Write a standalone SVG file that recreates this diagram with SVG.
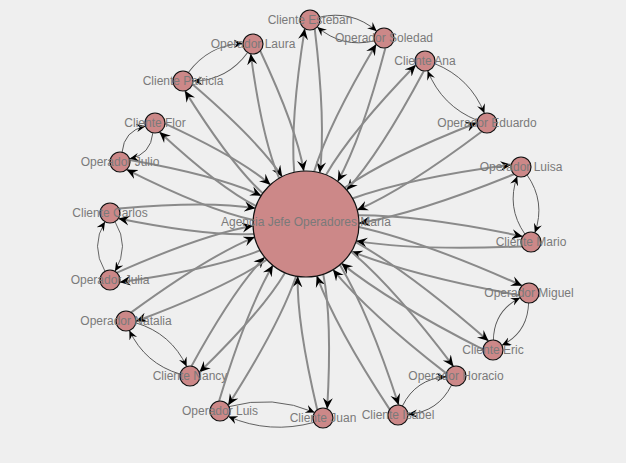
<svg xmlns="http://www.w3.org/2000/svg" width="626" height="463" viewBox="0 0 626 463">
<style>
.sp{fill:none;stroke:#8a8a8a;stroke-width:2;marker-end:url(#a)}
.pr{fill:none;stroke:#555;stroke-width:0.9;marker-end:url(#b)}
.n{fill:#cc8888;stroke:#111;stroke-width:1.2}
text{font-family:"Liberation Sans",Arial,sans-serif;font-size:12px;fill:#7a7a7a;text-anchor:middle;dominant-baseline:central}
</style>
<defs>
<marker id="a" viewBox="-11 -6 12 12" markerWidth="12" markerHeight="12" refX="0" refY="0" orient="auto" markerUnits="userSpaceOnUse"><path d="M0,0 L-11,-5 L-7,0 L-11,5 z" fill="#000"/></marker>
<marker id="b" viewBox="-11 -6 12 12" markerWidth="10" markerHeight="10" refX="0" refY="0" orient="auto" markerUnits="userSpaceOnUse"><path d="M0,0 L-11,-5 L-7,0 L-11,5 z" fill="#000"/></marker>
</defs>
<rect width="626" height="463" fill="#efefef"/>
<g id="connectors">
<g transform="translate(306,224) rotate(-88.9)"><path class="sp" d="M51.4,-12.8 Q102,-18 195.3,-5"/><path class="sp" d="M195.3,5 Q102,18 51.4,12.8"/></g>
<g transform="translate(306,224) rotate(-67.2)"><path class="sp" d="M51.4,-12.8 Q101,-18 193,-5"/><path class="sp" d="M193,5 Q101,18 51.4,12.8"/></g>
<g transform="translate(306,224) rotate(-53.9)"><path class="sp" d="M51.4,-12.8 Q101,-18 193.1,-5"/><path class="sp" d="M193.1,5 Q101,18 51.4,12.8"/></g>
<g transform="translate(306,224) rotate(-29.2)"><path class="sp" d="M51.4,-12.8 Q104,-18 198.6,-5"/><path class="sp" d="M198.6,5 Q104,18 51.4,12.8"/></g>
<g transform="translate(306,224) rotate(-14.8)"><path class="sp" d="M51.4,-12.8 Q111,-18 213.7,-5"/><path class="sp" d="M213.7,5 Q111,18 51.4,12.8"/></g>
<g transform="translate(306,224) rotate(4.6)"><path class="sp" d="M51.4,-12.8 Q113,-18 217,-5"/><path class="sp" d="M217,5 Q113,18 51.4,12.8"/></g>
<g transform="translate(306,224) rotate(17.2)"><path class="sp" d="M51.4,-12.8 Q117,-18 224.7,-5"/><path class="sp" d="M224.7,5 Q117,18 51.4,12.8"/></g>
<g transform="translate(306,224) rotate(34)"><path class="sp" d="M51.4,-12.8 Q113,-18 216.8,-5"/><path class="sp" d="M216.8,5 Q113,18 51.4,12.8"/></g>
<g transform="translate(306,224) rotate(45.4)"><path class="sp" d="M51.4,-12.8 Q107,-18 204.9,-5"/><path class="sp" d="M204.9,5 Q107,18 51.4,12.8"/></g>
<g transform="translate(306,224) rotate(64.3)"><path class="sp" d="M51.4,-12.8 Q106,-18 203.3,-5"/><path class="sp" d="M203.3,5 Q106,18 51.4,12.8"/></g>
<g transform="translate(306,224) rotate(85)"><path class="sp" d="M51.4,-12.8 Q97,-18 186,-5"/><path class="sp" d="M186,5 Q97,18 51.4,12.8"/></g>
<g transform="translate(306,224) rotate(114.7)"><path class="sp" d="M51.4,-12.8 Q103,-18 197.1,-5"/><path class="sp" d="M197.1,5 Q103,18 51.4,12.8"/></g>
<g transform="translate(306,224) rotate(127.3)"><path class="sp" d="M51.4,-12.8 Q96,-18 182.5,-5"/><path class="sp" d="M182.5,5 Q96,18 51.4,12.8"/></g>
<g transform="translate(306,224) rotate(151.7)"><path class="sp" d="M51.4,-12.8 Q102,-18 195.8,-5"/><path class="sp" d="M195.8,5 Q102,18 51.4,12.8"/></g>
<g transform="translate(306,224) rotate(164.1)"><path class="sp" d="M51.4,-12.8 Q102,-18 195.1,-5"/><path class="sp" d="M195.1,5 Q102,18 51.4,12.8"/></g>
<g transform="translate(306,224) rotate(183.2)"><path class="sp" d="M51.4,-12.8 Q98,-18 187.6,-5"/><path class="sp" d="M187.6,5 Q98,18 51.4,12.8"/></g>
<g transform="translate(306,224) rotate(198.4)"><path class="sp" d="M51.4,-12.8 Q98,-18 187.4,-5"/><path class="sp" d="M187.4,5 Q98,18 51.4,12.8"/></g>
<g transform="translate(306,224) rotate(213.8)"><path class="sp" d="M51.4,-12.8 Q91,-18 173,-5"/><path class="sp" d="M173,5 Q91,18 51.4,12.8"/></g>
<g transform="translate(306,224) rotate(229.3)"><path class="sp" d="M51.4,-12.8 Q94,-18 179.9,-5"/><path class="sp" d="M179.9,5 Q94,18 51.4,12.8"/></g>
<g transform="translate(306,224) rotate(253.6)"><path class="sp" d="M51.4,-12.8 Q94,-18 178.9,-5"/><path class="sp" d="M178.9,5 Q94,18 51.4,12.8"/></g>
<g transform="translate(310,20) rotate(13.7)"><path class="pr" d="M8.7,-5 Q38,-20 67.5,-5"/><path class="pr" d="M67.5,5 Q38,20 8.7,5"/></g>
<g transform="translate(425,61) rotate(45)"><path class="pr" d="M8.7,-5 Q44,-20 79,-5"/><path class="pr" d="M79,5 Q44,20 8.7,5"/></g>
<g transform="translate(521,167) rotate(82.4)"><path class="pr" d="M8.7,-5 Q38,-20 67,-5"/><path class="pr" d="M67,5 Q38,20 8.7,5"/></g>
<g transform="translate(529,293) rotate(122.3)"><path class="pr" d="M8.7,-5 Q34,-20 58.7,-5"/><path class="pr" d="M58.7,5 Q34,20 8.7,5"/></g>
<g transform="translate(456,376) rotate(146.1)"><path class="pr" d="M8.7,-5 Q35,-20 61.2,-5"/><path class="pr" d="M61.2,5 Q35,20 8.7,5"/></g>
<g transform="translate(323,418) rotate(183.9)"><path class="pr" d="M8.7,-5 Q52,-20 94.5,-5"/><path class="pr" d="M94.5,5 Q52,20 8.7,5"/></g>
<g transform="translate(190,376) rotate(220.7)"><path class="pr" d="M8.7,-5 Q42,-20 75.7,-5"/><path class="pr" d="M75.7,5 Q42,20 8.7,5"/></g>
<g transform="translate(110,280) rotate(-90)"><path class="pr" d="M8.7,-5 Q34,-20 58.3,-5"/><path class="pr" d="M58.3,5 Q34,20 8.7,5"/></g>
<g transform="translate(120,162) rotate(-48.1)"><path class="pr" d="M8.7,-5 Q26,-18 43.7,-5"/><path class="pr" d="M43.7,5 Q26,18 8.7,5"/></g>
<g transform="translate(183,81) rotate(-27.9)"><path class="pr" d="M8.7,-5 Q40,-20 70.5,-5"/><path class="pr" d="M70.5,5 Q40,20 8.7,5"/></g>
</g>
<g id="center"><circle class="n" cx="306" cy="224" r="53"/></g>
<g id="nodes">
<g id="esteban"><circle class="n" cx="310" cy="20" r="10"/></g>
<g id="soledad"><circle class="n" cx="384" cy="38" r="10"/></g>
<g id="ana"><circle class="n" cx="425" cy="61" r="10"/></g>
<g id="eduardo"><circle class="n" cx="487" cy="123" r="10"/></g>
<g id="luisa"><circle class="n" cx="521" cy="167" r="10"/></g>
<g id="mario"><circle class="n" cx="531" cy="242" r="10"/></g>
<g id="miguel"><circle class="n" cx="529" cy="293" r="10"/></g>
<g id="eric"><circle class="n" cx="493" cy="350" r="10"/></g>
<g id="horacio"><circle class="n" cx="456" cy="376" r="10"/></g>
<g id="isabel"><circle class="n" cx="398" cy="415" r="10"/></g>
<g id="juan"><circle class="n" cx="323" cy="418" r="10"/></g>
<g id="luis"><circle class="n" cx="220" cy="411" r="10"/></g>
<g id="nancy"><circle class="n" cx="190" cy="376" r="10"/></g>
<g id="natalia"><circle class="n" cx="126" cy="321" r="10"/></g>
<g id="julia"><circle class="n" cx="110" cy="280" r="10"/></g>
<g id="carlos"><circle class="n" cx="110" cy="213" r="10"/></g>
<g id="julio"><circle class="n" cx="120" cy="162" r="10"/></g>
<g id="flor"><circle class="n" cx="155" cy="123" r="10"/></g>
<g id="patricia"><circle class="n" cx="183" cy="81" r="10"/></g>
<g id="laura"><circle class="n" cx="253" cy="44" r="10"/></g>
</g>
<g id="labels">
<text x="306" y="222">Agencia Jefe Operadores María</text>
<text x="310" y="20">Cliente Esteban</text>
<text x="384" y="38">Operador Soledad</text>
<text x="425" y="61">Cliente Ana</text>
<text x="487" y="123">Operador Eduardo</text>
<text x="521" y="167">Operador Luisa</text>
<text x="531" y="242">Cliente Mario</text>
<text x="529" y="293">Operador Miguel</text>
<text x="493" y="350">Cliente Eric</text>
<text x="456" y="376">Operador Horacio</text>
<text x="398" y="415">Cliente Isabel</text>
<text x="323" y="418">Cliente Juan</text>
<text x="220" y="411">Operador Luis</text>
<text x="190" y="376">Cliente Nancy</text>
<text x="126" y="321">Operador Natalia</text>
<text x="110" y="280">Operador Julia</text>
<text x="110" y="213">Cliente Carlos</text>
<text x="120" y="162">Operador Julio</text>
<text x="155" y="123">Cliente Flor</text>
<text x="183" y="81">Cliente Patricia</text>
<text x="253" y="44">Operador Laura</text>
</g>
</svg>
